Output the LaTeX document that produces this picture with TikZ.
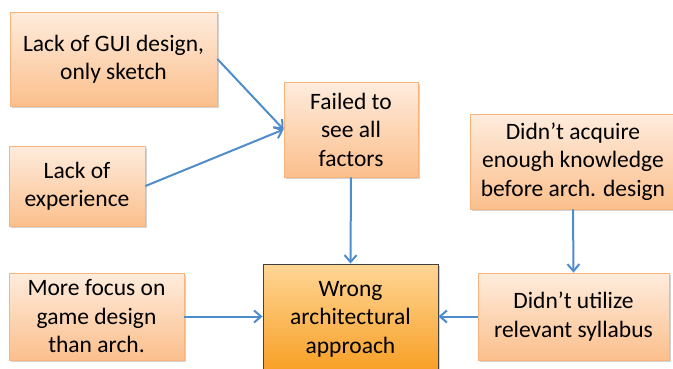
\documentclass[tikz,border=0pt]{standalone}
\usepackage{fontspec}
\setmainfont{Carlito}
\usetikzlibrary{arrows.meta,shadows}
\definecolor{btop}{HTML}{FEECDD}
\definecolor{bbot}{HTML}{FBBF8C}
\definecolor{bdraw}{HTML}{F8B47A}
\definecolor{ftop}{HTML}{FFD696}
\definecolor{fbot}{HTML}{F79E22}
\definecolor{arr}{HTML}{4F8CCB}
\tikzset{
  cause/.style={draw=bdraw, line width=0.8pt, top color=btop, bottom color=bbot,
    align=center, inner sep=2pt, font=\fontsize{23.5}{28.5}\selectfont,
    drop shadow={shadow xshift=2pt, shadow yshift=-2pt, opacity=0.35, fill=gray}},
  effect/.style={cause, draw=black!75, top color=ftop, bottom color=fbot},
  conn/.style={draw=arr, line width=2pt, -{Straight Barb[length=7pt,width=12pt,line width=2pt]}}
}
\begin{document}
\begin{tikzpicture}[x=1pt,y=-1pt]
\useasboundingbox (0,0) rectangle (673,368);
\node[cause, minimum width=207pt, minimum height=94pt] (a) at (113.5,59) {Lack of GUI design,\\only sketch};
\node[cause, minimum width=136pt, minimum height=80pt] (b) at (77,186) {Lack of\\experience};
\node[cause, minimum width=134pt, minimum height=95pt] (c) at (351,129.5) {Failed to\\see all\\factors};
\node[cause, minimum width=206pt, minimum height=95pt] (d) at (573,161.5) {Didn’t acquire\\enough knowledge\\before arch. design};
\node[cause, minimum width=175pt, minimum height=87pt] (e) at (96.5,316.5) {More focus on\\game design\\than arch.};
\node[effect, minimum width=175pt, minimum height=110pt] (f) at (350.5,319) {Wrong\\architectural\\approach};
\node[cause, minimum width=191pt, minimum height=87pt] (g) at (573.5,316.5) {Didn’t utilize\\relevant syllabus};
\coordinate (cin) at (c.west);
\draw[conn] (a.east) -- (cin);
\draw[conn] (b.east) -- (cin);
\draw[conn] (c.south) -- (f.north);
\draw[conn] (d.south) -- (g.north);
\draw[conn] (e.east) -- (e.east -| f.west);
\draw[conn] (g.west) -- (g.west -| f.east);
\end{tikzpicture}
\end{document}
